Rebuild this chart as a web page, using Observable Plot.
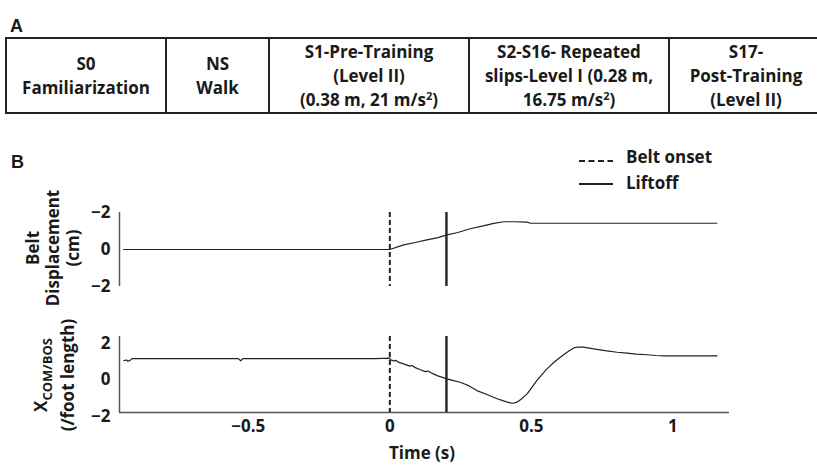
<!DOCTYPE html>
<html>
<head>
<meta charset="utf-8">
<script src="https://cdn.jsdelivr.net/npm/d3@7"></script>
<script src="https://cdn.jsdelivr.net/npm/@observablehq/plot@0.6"></script>
<style>
  html, body { margin: 0; padding: 0; background: #fff; }
  body { width: 817px; height: 465px; position: relative; overflow: hidden; font-family: "Open Sans", Lato, sans-serif; color: #1a1a1a; }
  .abs { position: absolute; }
  .panel { font-weight: bold; font-size: 18px; font-family: "Liberation Sans", Arial, sans-serif; }
  table.proto { position: absolute; left: 5px; top: 37px; width: 807px; height: 77px; border-collapse: collapse; table-layout: fixed; }
  table.proto td { border: 2px solid #222; text-align: center; vertical-align: middle; font-weight: bold; font-size: 17px; line-height: 24px; padding: 0; }
  sup { font-size: 11px; line-height: 0; vertical-align: 6px; }
  .ytitle { position: absolute; transform: translate(-50%, -50%) rotate(-90deg); white-space: nowrap; text-align: center; font-weight: bold; font-size: 17px; line-height: 20px; }
  .leg { position: absolute; font-weight: bold; font-size: 17px; white-space: nowrap; }
  #p1, #p2 { position: absolute; left: 0; }
  #p1 { top: 200px; } #p2 { top: 325px; }
  svg { overflow: visible; }
</style>
</head>
<body>
<div class="abs panel" style="left:10px; top:16px;">A</div>
<div class="abs panel" style="left:11px; top:152px;">B</div>

<table class="proto" id="proto"></table>

<div class="leg" style="left:578px; top:145px;"><svg width="36" height="14" style="vertical-align:middle; margin-right:12px; position:relative; top:3px;"><line id="legDash" x1="1" x2="35" y1="7" y2="7" stroke="#222" stroke-width="2"></line></svg><span id="leg1"></span></div>
<div class="leg" style="left:578px; top:171px;"><svg width="36" height="14" style="vertical-align:middle; margin-right:12px;"><line x1="1" x2="35" y1="7" y2="7" stroke="#222" stroke-width="2"></line></svg><span id="leg2"></span></div>

<div id="p1"></div>
<div id="p2"></div>

<div class="ytitle" style="left:53px; top:248px;">Belt<br>Displacement<br>(cm)</div>
<div class="ytitle" style="left:55px; top:375px; line-height:22px;">X<sub style="font-size:13px;">COM/BOS</sub><br>(/foot length)</div>
<div class="abs" style="left:422px; top:452px; transform:translate(-50%,-50%); font-weight:bold; font-size:17px; white-space:nowrap;">Time (s)</div>

<script>
// ---- Protocol table (panel A) ----
const protocolCells = [
  ["S0", "Familiarization"],
  ["NS", "Walk"],
  ["S1-Pre-Training", "(Level II)", "(0.38 m, 21 m/s<sup>2</sup>)"],
  ["S2-S16- Repeated", "slips-Level I (0.28 m,", "16.75 m/s<sup>2</sup>)"],
  ["S17-", "Post-Training", "(Level II)"]
];
const protocolWidths = [158, 101, 198, 198, 152];

// ---- Event markers ----
const eventNames = ["Belt onset", "Liftoff"];
const eventTimes = [0, 0.2];

// ---- Belt displacement (cm) ----
const beltTime = [-0.94, -0.5, 0, 0.049, 0.09, 0.131, 0.17, 0.202, 0.24, 0.284, 0.33, 0.367, 0.402, 0.44, 0.485, 0.497, 0.6, 0.8, 1.0, 1.155];
const beltDisp = [0, 0, 0, -0.25, -0.38, -0.52, -0.64, -0.79, -0.92, -1.12, -1.28, -1.41, -1.5, -1.5, -1.48, -1.42, -1.42, -1.42, -1.42, -1.42];
const beltTicks = [-2, 0, 2];
const beltTickLabels = ["−2", "0", "−2"];

// ---- XCOM/BOS (/foot length) ----
const xcomTime = [-0.94, -0.93, -0.925, -0.918, -0.91, -0.6, -0.535, -0.527, -0.519, -0.3, -0.05, 0, 0.002, 0.015, 0.022, 0.03, 0.049, 0.07, 0.078, 0.09, 0.108, 0.125, 0.135, 0.15, 0.167, 0.202, 0.225, 0.249, 0.28, 0.308, 0.345, 0.379, 0.41, 0.426, 0.437, 0.449, 0.465, 0.485, 0.5, 0.52, 0.555, 0.58, 0.602, 0.63, 0.65, 0.665, 0.685, 0.72, 0.76, 0.803, 0.838, 0.87, 0.909, 0.94, 0.968, 1.05, 1.156];
const xcomValue = [1.07, 1.1, 1.03, 1.08, 1.18, 1.18, 1.18, 1.06, 1.18, 1.18, 1.18, 1.2, 1.11, 1.05, 1.08, 0.98, 0.89, 0.76, 0.8, 0.68, 0.56, 0.46, 0.49, 0.36, 0.24, 0.06, -0.04, -0.13, -0.33, -0.59, -0.82, -1.04, -1.2, -1.27, -1.29, -1.23, -1.05, -0.77, -0.45, -0.03, 0.61, 0.98, 1.25, 1.57, 1.77, 1.82, 1.81, 1.72, 1.62, 1.53, 1.48, 1.43, 1.39, 1.35, 1.33, 1.33, 1.33];
const xcomTicks = [-2, 0, 2];
const timeTicks = [-0.5, 0, 0.5, 1];

// ---- Build table ----
const tr = document.createElement("tr");
protocolCells.forEach((lines, i) => {
  const td = document.createElement("td");
  td.style.width = protocolWidths[i] + "px";
  td.innerHTML = lines.join("<br>");
  tr.appendChild(td);
});
document.getElementById("proto").appendChild(tr);
document.getElementById("leg1").textContent = eventNames[0];
document.getElementById("leg2").textContent = eventNames[1];
document.getElementById("legDash").setAttribute("stroke-dasharray", "6,3.5");

const fmt = d => d < 0 ? "−" + Math.abs(d) : String(d);
const xDomain = [-0.955, 1.2];
const font = {fontFamily: "'Open Sans', Lato, sans-serif", fontSize: "17px", fontWeight: "bold", color: "#1a1a1a", overflow: "visible", background: "transparent"};

const belt = beltTime.map((t, i) => ({t, v: beltDisp[i]}));
const xcom = xcomTime.map((t, i) => ({t, v: xcomValue[i]}));

const p1 = Plot.plot({
  width: 817, height: 100,
  marginLeft: 119, marginRight: 88, marginTop: 12, marginBottom: 14,
  style: font,
  x: {domain: xDomain, axis: null},
  y: {domain: [-2, 2], reverse: true, axis: null},
  marks: [
    Plot.ruleX([xDomain[0]], {stroke: "#555", strokeWidth: 1.5}),
    Plot.axisY({ticks: beltTicks, tickSize: 0, tickPadding: 9, label: null,
      tickFormat: d => beltTickLabels[beltTicks.indexOf(d)], fontWeight: "bold", fontSize: 17}),
    Plot.line(belt, {x: "t", y: "v", stroke: "#222", strokeWidth: 1.2}),
    Plot.ruleX([eventTimes[0]], {stroke: "#222", strokeWidth: 2, strokeDasharray: "5,3"}),
    Plot.ruleX([eventTimes[1]], {stroke: "#222", strokeWidth: 2.4})
  ]
});
document.getElementById("p1").appendChild(p1);

const yDom2 = [-1.8, 2.4];
const p2 = Plot.plot({
  width: 817, height: 140,
  marginLeft: 119, marginRight: 88, marginTop: 11, marginBottom: 53,
  style: font,
  x: {domain: xDomain, axis: null},
  y: {domain: yDom2, axis: null},
  marks: [
    Plot.ruleX([xDomain[0]], {stroke: "#555", strokeWidth: 1.5}),
    Plot.ruleY([yDom2[0]], {stroke: "#555", strokeWidth: 1.5}),
    Plot.axisY({ticks: xcomTicks, tickSize: 0, tickPadding: 9, label: null, tickFormat: fmt, fontWeight: "bold", fontSize: 17}),
    Plot.axisX({ticks: timeTicks, tickSize: 0, tickPadding: 7, label: null, tickFormat: fmt, fontWeight: "bold", fontSize: 17}),
    Plot.line(xcom, {x: "t", y: "v", stroke: "#222", strokeWidth: 1.2}),
    Plot.ruleX([eventTimes[0]], {stroke: "#222", strokeWidth: 2, strokeDasharray: "5,3"}),
    Plot.ruleX([eventTimes[1]], {stroke: "#222", strokeWidth: 2.4})
  ]
});
document.getElementById("p2").appendChild(p2);
</script>
</body>
</html>
